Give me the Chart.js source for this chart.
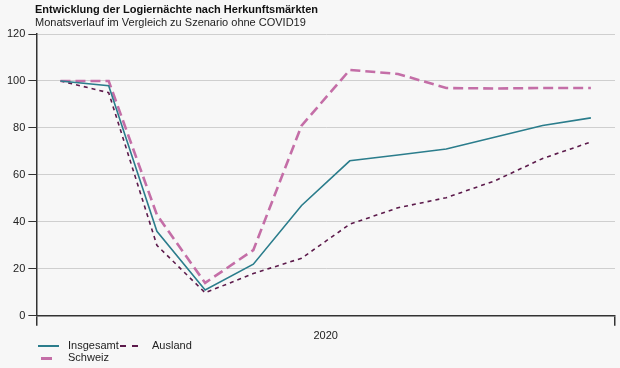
<!DOCTYPE html>
<html>
<head>
<meta charset="utf-8">
<script src="https://cdn.jsdelivr.net/npm/chart.js@4"></script>
<style>
  body { margin: 0; background: #f7f7f7; font-family: "Liberation Sans", Arial, sans-serif; }
  #wrap { position: relative; width: 620px; height: 368px; }
  #chart { position: absolute; left: 0; top: 0; }
  .title { position: absolute; left: 35px; top: 3px; font-size: 11px; font-weight: bold; color: #111; }
  .subtitle { position: absolute; left: 35px; top: 16px; font-size: 11px; color: #222; }
  .leg { position: absolute; font-size: 11px; color: #222; line-height: 13px; }
  .sw { position: absolute; height: 0; }
</style>
</head>
<body>
<div id="wrap">
  <canvas id="chart" width="620" height="368"></canvas>
  <div class="title">Entwicklung der Logiernächte nach Herkunftsmärkten</div>
  <div class="subtitle">Monatsverlauf im Vergleich zu Szenario ohne COVID19</div>

  <div class="sw" style="left:38px; top:345px; width:21px; border-top:2px solid #2b7d8c;"></div>
  <div class="leg" style="left:68px; top:339px;">Insgesamt</div>
  <div class="sw" style="left:120px; top:345px; width:18px; border-top:2px dashed #5c1a4b;"></div>
  <div class="leg" style="left:152px; top:339px;">Ausland</div>
  <div class="sw" style="left:41px; top:357px; width:11px; border-top:3px solid #c46ea7;"></div>
  <div class="leg" style="left:68px; top:351px;">Schweiz</div>
</div>

<script>
// Logiernächte, Index (Szenario ohne COVID19 = 100)

const months = ["Jan", "Feb", "Mär", "Apr", "Mai", "Jun", "Jul", "Aug", "Sep", "Okt", "Nov", "Dez"];

const insgesamt = [100, 98, 36, 11, 22, 47, 66, 68.5, 71, 76, 81, 84.3];

const schweiz = [100, 100, 43, 14, 28, 81, 104.7, 103, 97, 96.8, 97, 97];

const ausland = [100, 95, 30, 9.8, 18, 24.5, 39, 46, 50.3, 57.4, 67, 74];

const yTicks = [0, 20, 40, 60, 80, 100, 120];


const canvas = document.getElementById("chart");

new Chart(canvas, {

    type: "line",

    data: {

        labels: months,

        datasets: [

            {
                label: "Insgesamt",
                data: insgesamt,
                borderColor: "#2b7d8c",
                borderWidth: 1.6,
                pointRadius: 0,
                tension: 0
            },

            {
                label: "Schweiz",
                data: schweiz,
                borderColor: "#c46ea7",
                borderWidth: 2.6,
                borderDash: [10, 5],
                pointRadius: 0,
                tension: 0
            },

            {
                label: "Ausland",
                data: ausland,
                borderColor: "#5c1a4b",
                borderWidth: 1.6,
                borderDash: [4, 4],
                pointRadius: 0,
                tension: 0
            }

        ]

    },

    options: {

        responsive: false,
        animation: false,

        layout: {
            padding: { top: 34, left: 4, right: 5, bottom: 25 }
        },

        plugins: {
            legend: { display: false },
            tooltip: { enabled: false }
        },

        scales: {

            x: {
                offset: true,
                ticks: { display: false },
                grid: {
                    offset: true,
                    drawOnChartArea: false,
                    tickLength: 10,
                    // only the two ends of the axis get a tick
                    tickColor: (ctx) => (ctx.index === 0 || ctx.index === undefined) ? "#333" : "rgba(0,0,0,0)",
                    lineWidth: 1.5
                },
                border: { display: true, color: "#333", width: 1.5 },
                title: {
                    display: true,
                    text: "2020",
                    color: "#222",
                    font: { family: "Liberation Sans", size: 11 },
                    padding: { top: 4, bottom: 0 }
                }
            },

            y: {
                min: 0,
                max: 120,
                afterBuildTicks: (axis) => {
                    axis.ticks = yTicks.map(v => ({ value: v }));
                },
                ticks: {
                    color: "#222",
                    padding: 3,
                    font: { family: "Liberation Sans", size: 11 }
                },
                grid: {
                    color: "#cfcfcf",
                    tickColor: "#333",
                    tickLength: 8,
                    lineWidth: 1
                },
                border: { display: true, color: "#333", width: 1.5 }
            }

        }

    }

});
</script>
</body>
</html>
